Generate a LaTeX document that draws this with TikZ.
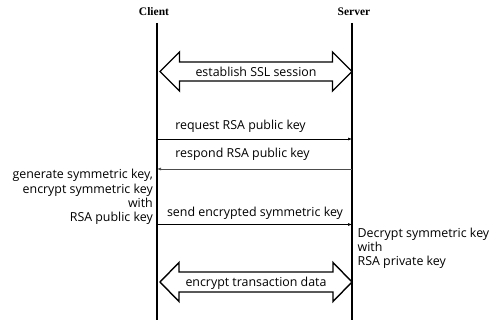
\documentclass[tikz,border=0pt]{standalone}
\usepackage{fontspec}
\setmainfont{Liberation Serif}
\newfontfamily\labelfont{Open Sans}
\usetikzlibrary{arrows.meta}

\tikzset{
  party/.style={font=\fontsize{11.5}{13}\selectfont\bfseries, inner sep=0pt},
  lifeline/.style={line width=1.1pt},
  msg/.style={line width=0.7pt, -{Latex[length=4pt,width=3pt]}},
  msglabel/.style={font=\labelfont\fontsize{12.4}{14}\selectfont, inner sep=0pt},
  note/.style={font=\labelfont\fontsize{12.4}{14.2}\selectfont, inner sep=0pt},
  blockarrow/.style={draw, fill=white, line width=1.4pt, line join=miter},
}

% outline of a horizontal double block arrow: #1 left tip x, #2 right tip x,
% #3 centre y, #4 head length, #5 half head height, #6 half shaft height
\newcommand{\dblockarrow}[6]{%
  \draw[blockarrow] (#1,#3) -- (#1+#4,#3-#5) -- (#1+#4,#3-#6) -- (#2-#4,#3-#6)
    -- (#2-#4,#3-#5) -- (#2,#3) -- (#2-#4,#3+#5) -- (#2-#4,#3+#6)
    -- (#1+#4,#3+#6) -- (#1+#4,#3+#5) -- cycle;}

\begin{document}
\begin{tikzpicture}[x=1pt, y=-1pt]
  \useasboundingbox (0,0) rectangle (497,320);

  % parties
  \node[party] (client) at (154,12) {Client};
  \node[party] (server) at (354,12) {Server};

  % lifelines
  \coordinate (cTop) at (157,23);
  \coordinate (cBot) at (157,320);
  \coordinate (sTop) at (352,23);
  \coordinate (sBot) at (352,320);
  \draw[lifeline] (cTop) -- (cBot);
  \draw[lifeline] (sTop) -- (sBot);

  % SSL session
  \dblockarrow{160}{352}{71.5}{19.5}{19.5}{9.5}
  \node[msglabel] (ssl) at (256,72) {establish SSL session};

  % key exchange messages
  \coordinate (c1) at (157,139);
  \coordinate (s1) at (352,139);
  \draw[msg] (c1) -- (s1);
  \node[msglabel] (req) at (240.5,126) {request RSA public key};

  \coordinate (c2) at (157,169);
  \coordinate (s2) at (352,169);
  \draw[msg, draw=black!70] (s2) -- (c2);
  \node[msglabel] (resp) at (242.5,154) {respond RSA public key};

  \coordinate (c3) at (157,224.5);
  \coordinate (s3) at (352,224.5);
  \draw[msg] (c3) -- (s3);
  \node[msglabel] (send) at (255,213) {send encrypted symmetric key};

  % notes beside the lifelines
  \node[note, align=right, anchor=east] (gen) at (153,197)
    {generate symmetric key,\\encrypt symmetric key\hspace*{4pt}\\with\hspace*{4pt}\\RSA public key};
  \node[note, align=left, anchor=west] (dec) at (357.5,248)
    {Decrypt symmetric key\\with\\RSA private key};

  % protected transfer
  \dblockarrow{160}{352}{282}{19}{19.5}{10}
  \node[msglabel] (data) at (256,283) {encrypt transaction data};
\end{tikzpicture}
\end{document}
